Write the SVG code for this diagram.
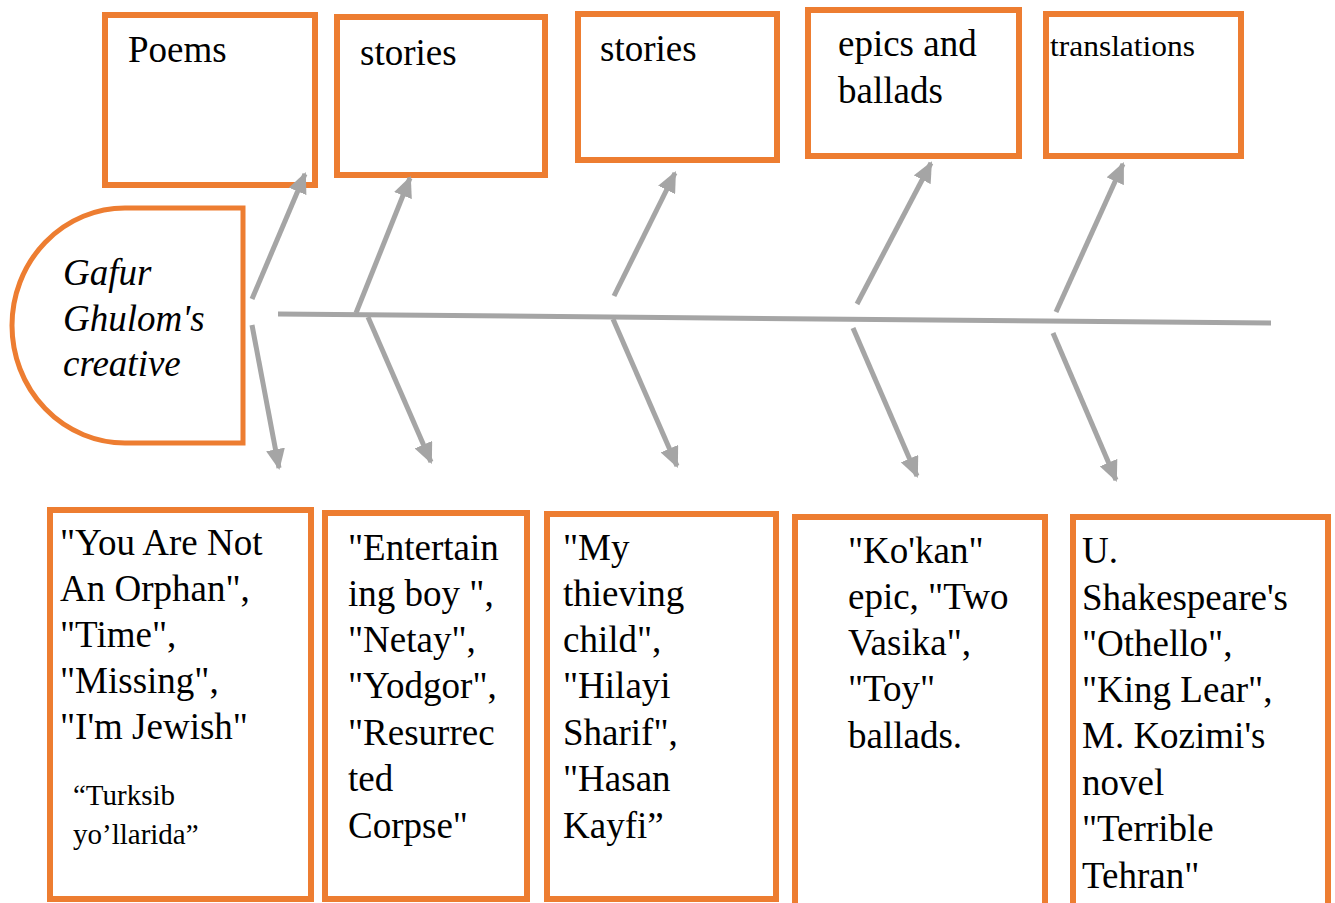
<svg xmlns="http://www.w3.org/2000/svg" width="1335" height="903" viewBox="0 0 1335 903">
  <style>
    .box { fill: #FFFFFF; stroke: #ED7D31; stroke-width: 6; }
    .head { fill: #FFFFFF; stroke: #ED7D31; stroke-width: 5; }
    .t { font-family: "Liberation Serif", "Times New Roman", serif; font-size: 37px; fill: #000000; }
    .ti { font-family: "Liberation Serif", "Times New Roman", serif; font-size: 37px; font-style: italic; fill: #000000; }
    .ts { font-family: "Liberation Serif", "Times New Roman", serif; font-size: 29px; fill: #000000; }
    .bone { stroke: #A5A5A5; stroke-width: 5; fill: none; }
    .arrow { stroke: #A5A5A5; stroke-width: 5; fill: none; marker-end: url(#ah); }
  </style>
  <defs>
    <marker id="ah" viewBox="0 0 10 10" refX="9" refY="5" markerUnits="userSpaceOnUse" markerWidth="21" markerHeight="19" orient="auto" preserveAspectRatio="none">
      <path d="M0,0 L10,5 L0,10 Z" fill="#A5A5A5"/>
    </marker>
  </defs>
  <rect width="1335" height="903" fill="#FFFFFF"/>

  <g id="head">
    <path class="head" d="M243,208 L125,208 A113,117.5 0 0 0 125,443 L243,443 Z"/>
    <text class="ti" x="63" y="285">Gafur</text>
    <text class="ti" x="63" y="331">Ghulom's</text>
    <text class="ti" x="63" y="376">creative</text>
  </g>

  <g id="top-poems">
    <rect class="box" x="105" y="15" width="210" height="170"/>
    <text class="t" x="128" y="62">Poems</text>
  </g>
  <g id="top-stories-1">
    <rect class="box" x="337" y="17" width="208" height="158"/>
    <text class="t" x="360" y="65">stories</text>
  </g>
  <g id="top-stories-2">
    <rect class="box" x="578" y="14" width="199" height="146"/>
    <text class="t" x="600" y="61">stories</text>
  </g>
  <g id="top-epics">
    <rect class="box" x="808" y="10" width="211" height="146"/>
    <text class="t" x="838" y="56">epics and</text>
    <text class="t" x="838" y="103">ballads</text>
  </g>
  <g id="top-translations">
    <rect class="box" x="1046" y="14" width="195" height="142"/>
    <text class="t" x="1050" y="56" style="font-size:30px" textLength="145" lengthAdjust="spacingAndGlyphs">translations</text>
  </g>

  <g id="bottom-poems">
    <rect class="box" x="50" y="510" width="261" height="389"/>
    <text class="t" x="60" y="555">"You Are Not</text>
    <text class="t" x="60" y="601">An Orphan",</text>
    <text class="t" x="60" y="647">"Time",</text>
    <text class="t" x="60" y="693">"Missing",</text>
    <text class="t" x="60" y="739">"I'm Jewish"</text>
    <text class="ts" x="73" y="805">“Turksib</text>
    <text class="ts" x="73" y="844">yo’llarida”</text>
  </g>
  <g id="bottom-stories-1">
    <rect class="box" x="325" y="513" width="202" height="386"/>
    <text class="t" x="348" y="560">"Entertain</text>
    <text class="t" x="348" y="606">ing boy ",</text>
    <text class="t" x="348" y="652">"Netay",</text>
    <text class="t" x="348" y="698">"Yodgor",</text>
    <text class="t" x="348" y="745">"Resurrec</text>
    <text class="t" x="348" y="791">ted</text>
    <text class="t" x="348" y="838">Corpse"</text>
  </g>
  <g id="bottom-stories-2">
    <rect class="box" x="547" y="514" width="229" height="385"/>
    <text class="t" x="563" y="560">"My</text>
    <text class="t" x="563" y="606">thieving</text>
    <text class="t" x="563" y="652">child",</text>
    <text class="t" x="563" y="698">"Hilayi</text>
    <text class="t" x="563" y="745">Sharif",</text>
    <text class="t" x="563" y="791">"Hasan</text>
    <text class="t" x="563" y="838">Kayfi”</text>
  </g>
  <g id="bottom-epics">
    <rect class="box" x="795" y="517" width="250" height="400"/>
    <text class="t" x="848" y="563">"Ko'kan"</text>
    <text class="t" x="848" y="609">epic, "Two</text>
    <text class="t" x="848" y="655">Vasika",</text>
    <text class="t" x="848" y="701">"Toy"</text>
    <text class="t" x="848" y="748">ballads.</text>
  </g>
  <g id="bottom-translations">
    <rect class="box" x="1073" y="517" width="255" height="400"/>
    <text class="t" x="1082" y="563">U.</text>
    <text class="t" x="1082" y="610">Shakespeare's</text>
    <text class="t" x="1082" y="656">"Othello",</text>
    <text class="t" x="1082" y="702">"King Lear",</text>
    <text class="t" x="1082" y="748">M. Kozimi's</text>
    <text class="t" x="1082" y="795">novel</text>
    <text class="t" x="1082" y="841">"Terrible</text>
    <text class="t" x="1082" y="888">Tehran"</text>
  </g>

  <g id="connectors">
    <line class="bone" x1="278" y1="314" x2="1271" y2="323"/>
    <line class="arrow" x1="252" y1="299" x2="305" y2="174"/>
    <line class="arrow" x1="356" y1="313" x2="410" y2="178"/>
    <line class="arrow" x1="614" y1="296" x2="675" y2="173"/>
    <line class="arrow" x1="857" y1="304" x2="931" y2="163"/>
    <line class="arrow" x1="1056" y1="312" x2="1123" y2="164"/>
    <line class="arrow" x1="252" y1="325" x2="279" y2="468"/>
    <line class="arrow" x1="368" y1="317" x2="431" y2="462"/>
    <line class="arrow" x1="613" y1="319" x2="677" y2="466"/>
    <line class="arrow" x1="853" y1="328" x2="917" y2="476"/>
    <line class="arrow" x1="1053" y1="333" x2="1116" y2="480"/>
  </g>
</svg>
